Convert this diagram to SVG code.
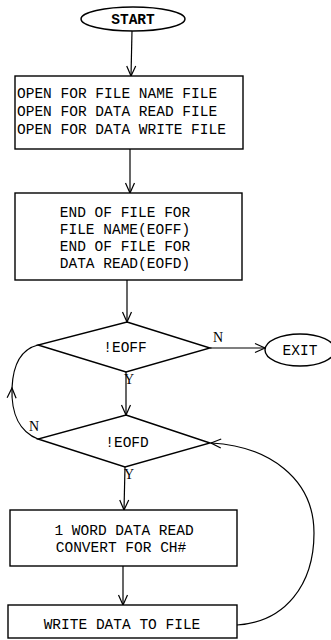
<svg xmlns="http://www.w3.org/2000/svg" width="331" height="640" viewBox="0 0 331 640">
  <style>
    .shape { fill: #fff; stroke: #000; stroke-width: 1.4; }
    .line { fill: none; stroke: #000; stroke-width: 1.2; }
    .t { font-family: "Liberation Mono", "DejaVu Sans Mono", monospace; font-size: 14.5px; fill: #000; }
    .c { text-anchor: middle; }
    .lbl { font-family: "Liberation Serif", "DejaVu Serif", serif; font-size: 14px; fill: #000; }
  </style>
  <defs>
    <marker id="arrow" markerUnits="userSpaceOnUse" markerWidth="14" markerHeight="12" refX="11" refY="6" orient="auto">
      <path d="M1,1.5 L11,6 L1,10.5" fill="none" stroke="#000" stroke-width="1.2"/>
    </marker>
  </defs>

  <rect width="331" height="640" fill="#fff"/>

  <!-- connectors -->
  <g id="connectors">
    <path class="line" d="M132,31 L131,76" marker-end="url(#arrow)"/>
    <path class="line" d="M130,149 L130,193" marker-end="url(#arrow)"/>
    <path class="line" d="M127,280 L127,322" marker-end="url(#arrow)"/>
    <path class="line" d="M210,348 L265,348" marker-end="url(#arrow)"/>
    <path class="line" d="M126,372 L126,415" marker-end="url(#arrow)"/>
    <path class="line" d="M125,467 L124,510" marker-end="url(#arrow)"/>
    <path class="line" d="M123,566 L123,605" marker-end="url(#arrow)"/>
    <!-- !EOFD N: back up to !EOFF -->
    <path class="line" d="M38,439 C20,432 11,414 12,388" marker-end="url(#arrow)"/>
    <path class="line" d="M12,388 C13,364 22,349 38,345"/>
    <!-- loop from write back to !EOFD -->
    <path class="line" d="M237,625 C285,622 314,585 314,533 C314,478 268,446 211,443" marker-end="url(#arrow)"/>
    <text class="lbl" x="213" y="342">N</text>
    <text class="lbl" x="124" y="384">Y</text>
    <text class="lbl" x="124" y="479">Y</text>
    <text class="lbl" x="29" y="431">N</text>
  </g>

  <g id="start">
    <ellipse class="shape" cx="133" cy="19" rx="52" ry="12"/>
    <text class="t c" x="133" y="24" font-size="15" font-weight="bold">START</text>
  </g>

  <g id="open-files">
    <rect class="shape" x="15" y="76" width="228" height="73"/>
    <text class="t" x="17" y="98">OPEN FOR FILE NAME FILE</text>
    <text class="t" x="17" y="116">OPEN FOR DATA READ FILE</text>
    <text class="t" x="17" y="134">OPEN FOR DATA WRITE FILE</text>
  </g>

  <g id="eof-flags">
    <rect class="shape" x="15" y="193" width="227" height="87"/>
    <text class="t c" x="125" y="217">END OF FILE FOR</text>
    <text class="t c" x="125" y="234">FILE NAME(EOFF)</text>
    <text class="t c" x="125" y="251">END OF FILE FOR</text>
    <text class="t c" x="125" y="268">DATA READ(EOFD)</text>
  </g>

  <g id="check-eoff">
    <polygon class="shape" points="127,322 210,348 126,372 38,345"/>
    <text class="t c" x="125" y="352">!EOFF</text>
  </g>

  <g id="exit">
    <ellipse class="shape" cx="300" cy="350" rx="35" ry="16"/>
    <text class="t c" x="300" y="355">EXIT</text>
  </g>

  <g id="check-eofd">
    <polygon class="shape" points="126,415 210,443 125,467 38,439"/>
    <text class="t c" x="127" y="447">!EOFD</text>
  </g>

  <g id="read-convert">
    <rect class="shape" x="10" y="510" width="227" height="56"/>
    <text class="t c" x="124" y="535">1 WORD DATA READ</text>
    <text class="t c" x="121" y="552">CONVERT FOR CH#</text>
  </g>

  <g id="write-data">
    <rect class="shape" x="8" y="605" width="229" height="33"/>
    <text class="t c" x="122" y="629">WRITE DATA TO FILE</text>
  </g>
</svg>
